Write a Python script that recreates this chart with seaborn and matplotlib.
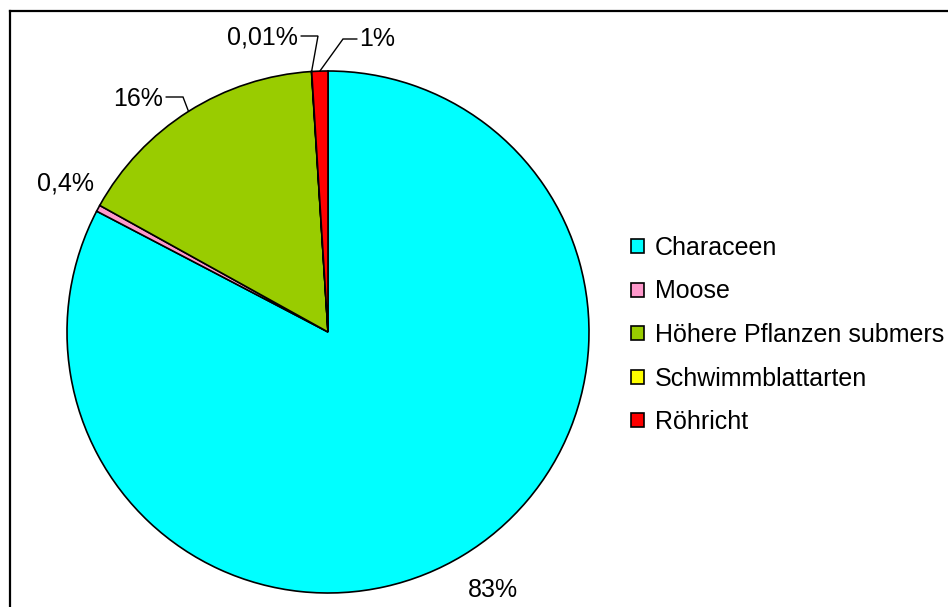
import numpy as np
import matplotlib
matplotlib.use("Agg")
import matplotlib.pyplot as plt
from matplotlib.lines import Line2D
import seaborn as sns

# Macrophyte groups and their share of the vegetated area (%)
categories = ["Characeen", "Moose", "Höhere Pflanzen submers", "Schwimmblattarten", "Röhricht"]
shares = [83, 0.4, 16, 0.01, 1]
share_labels = ["83%", "0,4%", "16%", "0,01%", "1%"]
colors = ["#00FFFF", "#FF99CC", "#99CC00", "#FFFF00", "#FF0000"]

sns.set_theme(style="white")
plt.rcParams["font.family"] = ["Liberation Sans", "DejaVu Sans"]
plt.rcParams["text.color"] = "black"

W, H, DPI = 948, 607, 100
fig = plt.figure(figsize=(W / DPI, H / DPI), dpi=DPI)

# pie centre and radius in pixels
cx, cy, r = 328, 332, 261
ax = fig.add_axes([(cx - r) / W, (H - cy - r) / H, 2 * r / W, 2 * r / H])

wedges, _ = ax.pie(
    shares, colors=colors, startangle=90, counterclock=False,
    wedgeprops=dict(edgecolor="black", linewidth=1.2), radius=1,
)
ax.set_xlim(-1, 1)
ax.set_ylim(-1, 1)
ax.set_aspect("equal")
ax.axis("off")


def px(x, y):
    """pixel position -> data coordinates of the pie axes"""
    return (x - cx) / r, (cy - y) / r


def edge_point(w):
    ang = np.deg2rad((w.theta1 + w.theta2) / 2)
    return np.cos(ang), np.sin(ang)


fs = 18
# label text positions (pixels) and optional leader elbows
label_pos = {
    0: dict(xy=(493, 590), ha="center", leader=None),
    1: dict(xy=(94, 183), ha="right", leader=None),
    2: dict(xy=(163, 99), ha="right", leader=[(166, 97), (183, 97)]),
    3: dict(xy=(298, 37), ha="right", leader=[(301, 36), (318, 36)]),
    4: dict(xy=(359, 39), ha="left", leader=[(357, 39), (343, 39)]),
}

for i, w in enumerate(wedges):
    spec = label_pos[i]
    tx, ty = px(*spec["xy"])
    ax.text(tx, ty, share_labels[i], ha=spec["ha"], va="center",
            fontsize=fs, color="black", clip_on=False)
    if spec["leader"]:
        pts = [px(*p) for p in spec["leader"]] + [edge_point(w)]
        xs, ys = zip(*pts)
        ax.plot(xs, ys, color="black", lw=1.0, clip_on=False,
                solid_joinstyle="miter")

leg = ax.legend(
    wedges, categories, loc="upper left",
    bbox_to_anchor=(631 / W, 1 - 236 / H), bbox_transform=fig.transFigure,
    frameon=False, fontsize=fs, handlelength=0.5, handleheight=0.5,
    handletextpad=0.45, labelspacing=0.78, borderpad=0, borderaxespad=0,
)
for t in leg.get_texts():
    t.set_color("black")
for h in leg.legend_handles:
    h.set_linewidth(1.2)
    h.set_edgecolor("black")

# chart area border (runs past the right and bottom edges)
fx = 10 / W
fy = 1 - 11 / H
fig.add_artist(Line2D([fx, fx], [-0.05, fy], transform=fig.transFigure,
                      color="black", lw=1.6, solid_capstyle="projecting"))
fig.add_artist(Line2D([fx, 1.05], [fy, fy], transform=fig.transFigure,
                      color="black", lw=1.6, solid_capstyle="projecting"))

fig.savefig("out.png", dpi=DPI, facecolor="white")
